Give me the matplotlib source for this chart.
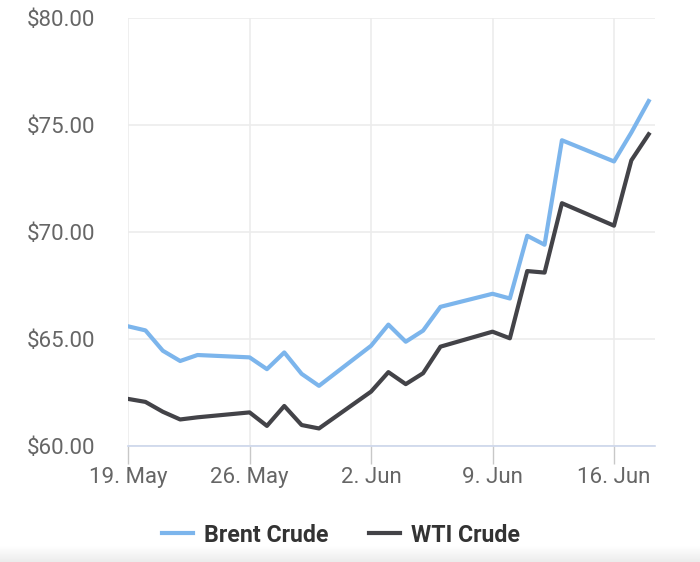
import numpy as np
import pandas as pd
import matplotlib.pyplot as plt
from matplotlib.colors import LinearSegmentedColormap

plt.rcParams['font.family'] = ['Roboto', 'DejaVu Sans']

# trading days
dates = pd.to_datetime([
    '2025-05-19', '2025-05-20', '2025-05-21', '2025-05-22', '2025-05-23',
    '2025-05-26', '2025-05-27', '2025-05-28', '2025-05-29', '2025-05-30',
    '2025-06-02', '2025-06-03', '2025-06-04', '2025-06-05', '2025-06-06',
    '2025-06-09', '2025-06-10', '2025-06-11', '2025-06-12', '2025-06-13',
    '2025-06-16', '2025-06-17', '2025-06-18',
])
brent = [65.60, 65.41, 64.46, 63.98, 64.26,
         64.15, 63.60, 64.38, 63.38, 62.82,
         64.69, 65.68, 64.88, 65.40, 66.51,
         67.12, 66.90, 69.83, 69.41, 74.29,
         73.30, 74.65, 76.12]
wti = [62.21, 62.07, 61.61, 61.25, 61.35,
       61.58, 60.95, 61.88, 60.99, 60.83,
       62.55, 63.46, 62.90, 63.41, 64.65,
       65.35, 65.04, 68.18, 68.11, 71.35,
       70.30, 73.35, 74.57]

tick_dates = pd.to_datetime(['2025-05-19', '2025-05-26', '2025-06-02', '2025-06-09', '2025-06-16'])
tick_labels = ['19. May', '26. May', '2. Jun', '9. Jun', '16. Jun']
y_ticks = [60, 65, 70, 75, 80]

fig = plt.figure(figsize=(7, 5.62), dpi=100)
ax = fig.add_axes([0.183, 0.206, 0.753, 0.762])

ax.plot(dates, brent, color='#7cb5ec', lw=3, solid_joinstyle='round', label='Brent Crude', zorder=3)
ax.plot(dates, wti, color='#434348', lw=3, solid_joinstyle='round', label='WTI Crude', zorder=3)

ax.set_ylim(60, 80)
ax.set_xlim(pd.Timestamp('2025-05-19'), pd.Timestamp('2025-06-18 09:00'))
ax.set_yticks(y_ticks)
ax.set_yticklabels(['$%.2f' % v for v in y_ticks])
ax.set_xticks(tick_dates)
ax.set_xticklabels(tick_labels)

ax.grid(True, color='#ececec', lw=1.2, zorder=0)
for s in ['top', 'right', 'left']:
    ax.spines[s].set_visible(False)
ax.spines['bottom'].set_color('#ccd6eb')
ax.spines['bottom'].set_linewidth(1.2)

ax.tick_params(axis='y', length=0, pad=24, labelsize=16, labelcolor='#666666')
ax.tick_params(axis='x', length=13, width=1, color='#c8c8c8', pad=2, labelsize=16, labelcolor='#666666')

leg = fig.legend(loc='center', bbox_to_anchor=(0.487, 0.048), ncol=2, frameon=False,
                 handlelength=1.35, handletextpad=0.45, columnspacing=1.75,
                 prop={'weight': 'bold', 'size': 16.7})
for t in leg.get_texts():
    t.set_color('#333333')

# faint shadow band along the bottom edge
bax = fig.add_axes([0, 0, 1, 0.028])
grad = np.linspace(0, 1, 50).reshape(-1, 1)
cmap = LinearSegmentedColormap.from_list('shade', ['#ececec', '#ffffff'])
bax.imshow(grad, aspect='auto', cmap=cmap, origin='lower')
bax.axis('off')

fig.savefig('out.png', dpi=100)
